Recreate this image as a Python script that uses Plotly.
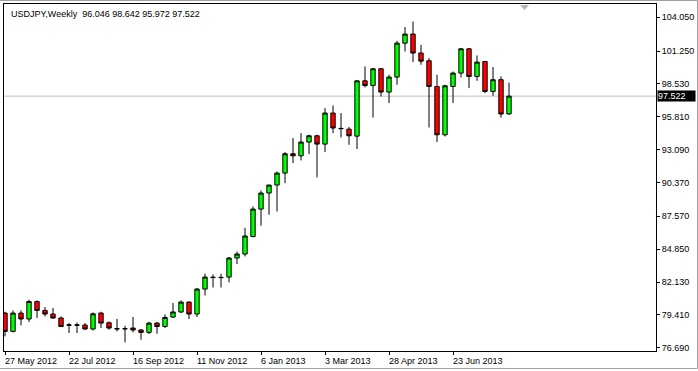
import pandas as pd
import plotly.graph_objects as go

# Weekly bars (MT4 weeks start on Sunday)
dates = pd.date_range("2012-05-27", periods=64, freq="7D")

opens = [79.56, 78.04, 79.56, 79.07, 80.52, 79.78, 79.48, 79.15, 78.58, 78.55,
         78.57, 78.24, 79.56, 78.76, 78.27, 78.25, 78.32, 78.16, 77.96, 78.73,
         78.45, 79.23, 79.65, 80.47, 79.48, 81.55, 82.50, 82.52, 82.54, 84.12,
         84.45, 85.90, 88.17, 89.50, 90.16, 91.15, 92.75, 92.58, 93.72, 94.24,
         93.55, 96.12, 94.85, 94.79, 94.21, 98.79, 98.40, 99.79, 97.86, 99.10,
         101.91, 102.66, 101.09, 100.45, 98.32, 94.32, 98.32, 99.43, 101.44, 99.15,
         100.39, 97.91, 98.88, 96.046]
highs = [79.67, 79.78, 79.78, 80.66, 80.61, 80.06, 79.98, 79.28, 78.73, 78.78,
         78.73, 79.61, 79.67, 78.87, 79.07, 78.51, 79.23, 78.24, 78.84, 78.82,
         79.45, 80.39, 80.61, 80.52, 81.63, 82.82, 82.76, 82.82, 84.20, 84.66,
         86.62, 88.39, 89.71, 90.18, 91.28, 92.89, 94.05, 94.46, 94.32, 94.32,
         96.53, 96.75, 96.12, 94.96, 98.83, 99.98, 99.84, 99.84, 99.29, 102.10,
         103.24, 103.70, 101.77, 100.67, 99.29, 98.46, 99.56, 101.50, 101.50, 100.89,
         100.45, 99.93, 99.15, 98.642]
lows = [77.63, 77.96, 78.54, 78.82, 79.15, 79.28, 79.07, 78.40, 77.91, 77.91,
        78.18, 78.12, 78.32, 78.18, 78.04, 77.13, 77.96, 77.35, 77.82, 77.85,
        78.32, 79.15, 79.56, 79.07, 79.23, 81.02, 81.68, 81.68, 82.10, 83.62,
        84.25, 85.82, 86.79, 87.70, 87.97, 90.32, 91.98, 92.20, 92.72, 90.79,
        92.89, 94.46, 94.10, 93.49, 93.14, 98.24, 95.75, 97.49, 96.95, 98.46,
        101.22, 100.34, 100.12, 94.93, 93.72, 94.18, 96.95, 99.07, 98.19, 98.79,
        97.77, 97.55, 95.75, 95.972]
closes = [78.04, 79.56, 79.07, 80.52, 79.78, 79.48, 79.15, 78.45, 78.56, 78.58,
          78.24, 79.50, 78.73, 78.32, 78.25, 78.27, 78.16, 77.96, 78.73, 78.45,
          79.20, 79.65, 80.47, 79.48, 81.55, 82.54, 82.52, 82.50, 84.12, 84.45,
          85.94, 88.17, 89.50, 90.16, 91.15, 92.75, 92.58, 93.72, 94.24, 93.55,
          96.12, 94.88, 94.83, 94.24, 98.79, 98.40, 99.79, 97.86, 99.10, 101.91,
          102.66, 101.09, 100.42, 98.32, 94.32, 98.38, 99.43, 101.44, 99.15, 100.34,
          97.91, 98.88, 96.04, 97.522]

ytick_vals = [76.69, 79.41, 82.13, 84.85, 87.57, 90.37, 93.09, 95.81, 98.53, 101.25, 104.05]
xtick_dates = pd.date_range("2012-05-27", periods=8, freq="56D")
xtick_labels = ["27 May 2012", "22 Jul 2012", "16 Sep 2012", "11 Nov 2012",
                "6 Jan 2013", "3 Mar 2013", "28 Apr 2013", "23 Jun 2013"]
last_price = 97.522
title_text = "USDJPY,Weekly  96.046 98.642 95.972 97.522"

FONT = "Liberation Sans, Arial, sans-serif"
W, H = 698, 371
L, R, T, B = 4, 42, 4, 20
PW, PH = W - L - R, H - T - B

def px_x(px):
    return (px - L) / PW

def px_y(py):
    return (H - B - py) / PH

fig = go.Figure()
fig.add_trace(go.Candlestick(
    x=dates, open=opens, high=highs, low=lows, close=closes,
    increasing=dict(fillcolor="#00ff00", line=dict(color="black", width=1)),
    decreasing=dict(fillcolor="#ff0000", line=dict(color="black", width=1)),
    whiskerwidth=0, showlegend=False, hoverinfo="x+y",
))

week = pd.Timedelta(days=7)
x0 = dates[0] - week * 0.125
x1 = dates[0] + week * 81.375

annotations = []
for d, lab in zip(xtick_dates, xtick_labels):
    annotations.append(dict(x=d, xref="x", y=0, yref="paper", text=lab, showarrow=False,
                            xanchor="left", yanchor="top", xshift=-2, yshift=-3,
                            font=dict(family=FONT, size=9, color="black")))
annotations.append(dict(x=px_x(9), xref="paper", y=px_y(7), yref="paper", text=title_text,
                        showarrow=False, xanchor="left", yanchor="top",
                        font=dict(family=FONT, size=9, color="black")))
annotations.append(dict(x=1, xref="paper", y=last_price, yref="y", text=last_price and f"{last_price:.3f}",
                        showarrow=False, xanchor="left", yanchor="middle", xshift=1,
                        bgcolor="black", borderpad=0, width=37, align="left",
                        font=dict(family=FONT, size=9, color="white")))

shapes = [
    dict(type="line", xref="paper", x0=0, x1=1, yref="y", y0=last_price, y1=last_price,
         line=dict(color="#c0c0c0", width=1), layer="below"),
    dict(type="path", xref="paper", yref="paper",
         path=f"M {px_x(520)} {px_y(5)} L {px_x(529)} {px_y(5)} L {px_x(524.5)} {px_y(10)} Z",
         fillcolor="#b4b4b4", line=dict(color="#b4b4b4", width=0)),
    dict(type="path", xref="paper", yref="paper",
         path=f"M {px_x(0)} {px_y(0.5)} L {px_x(697.5)} {px_y(0.5)} L {px_x(697.5)} {px_y(368.5)} L {px_x(0)} {px_y(368.5)}",
         line=dict(color="#a0a0a0", width=1)),
]

fig.update_layout(
    width=W, height=H, margin=dict(l=L, r=R, t=T, b=B),
    paper_bgcolor="white", plot_bgcolor="white",
    boxgap=0.22,
    font=dict(family=FONT, size=9, color="black"),
    annotations=annotations, shapes=shapes,
    xaxis=dict(type="date", range=[x0, x1], rangeslider=dict(visible=False),
               showgrid=False, zeroline=False, showline=True, mirror=True,
               linecolor="black", linewidth=1,
               tickmode="array", tickvals=list(xtick_dates), showticklabels=False,
               ticks="outside", ticklen=3, tickcolor="black", tickwidth=1),
    yaxis=dict(side="right", range=[76.42, 105.15], showgrid=False, zeroline=False,
               showline=True, mirror=True, linecolor="black", linewidth=1,
               tickmode="array", tickvals=ytick_vals,
               ticktext=[f"{v:.3f}" for v in ytick_vals],
               ticks="outside", ticklen=3, tickcolor="black", tickwidth=1,
               tickfont=dict(family=FONT, size=9, color="black")),
)

fig.write_html("out.html")
